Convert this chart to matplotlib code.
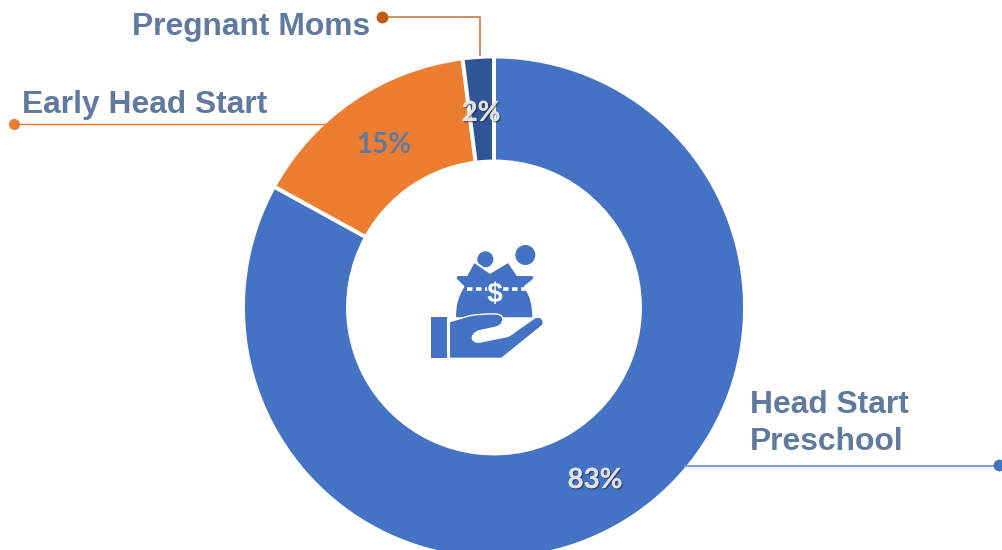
import matplotlib
matplotlib.use("Agg")
import matplotlib.pyplot as plt
import matplotlib.patheffects as pe
from matplotlib.patches import Circle, PathPatch, Polygon
from matplotlib.path import Path

categories = ["Head Start\nPreschool", "Early Head Start", "Pregnant Moms"]
shares = [83, 15, 2]
percent_labels = ["83%", "15%", "2%"]

BLUE = "#4472C4"
ORANGE = "#ED7D31"
NAVY = "#2F5597"
LABEL_INK = "#5F7A9E"
LIGHT_INK = "#E2E2E2"
H = 550


def Y(py):
    # reference pixel rows run downward, the axes run upward
    return H - py


def icon(zx, zy):
    return 400 + zx / 3, Y(220 + zy / 3)


fig = plt.figure(figsize=(10.03, 5.5), dpi=100)
ax = fig.add_axes([0, 0, 1, 1])

wedges, _ = ax.pie(shares, colors=[BLUE, ORANGE, NAVY], startangle=90, counterclock=False,
                   center=(494, Y(307.5)), radius=251,
                   wedgeprops=dict(width=105, edgecolor="white", linewidth=2.8))
ax.set_xlim(0, 1003)
ax.set_ylim(0, H)
ax.set_aspect("equal")
ax.axis("off")

# Leader lines with the dot at the far end
ax.plot([330, 14], [Y(124), Y(124)], color=ORANGE, lw=1.0, zorder=1)
ax.plot([14], [Y(124)], "o", color=ORANGE, ms=7, zorder=3)
ax.plot([480, 480, 382], [Y(55), Y(17), Y(17)], color="#D0814C", lw=1.3, zorder=1)
ax.plot([382], [Y(17)], "o", color="#C55A11", ms=7.5, zorder=3)
ax.plot([685, 999], [Y(466), Y(466)], color="#7299DB", lw=1.3, zorder=1)
ax.plot([999], [Y(465)], "o", color=BLUE, ms=7.5, zorder=3)

label_font = dict(family="Liberation Sans", fontweight="bold", fontsize=22.9, color=LABEL_INK)
ax.text(750, Y(423.5), categories[0], ha="left", va="center", linespacing=1.32, **label_font)
ax.text(22, Y(104.5), categories[1], ha="left", va="center", **label_font)
ax.text(132, Y(27.5), categories[2], ha="left", va="center", **label_font)

shadow = [pe.withSimplePatchShadow(offset=(1, -1), shadow_rgbFace="#222222", alpha=0.5), pe.Normal()]
pct_font = dict(family="Lato", fontweight="bold", fontsize=20, ha="center", va="center")
ax.text(595, Y(480), percent_labels[0], color=LIGHT_INK, path_effects=shadow, **pct_font)
ax.text(384, Y(145), percent_labels[1], color=LABEL_INK, **pct_font)
ax.text(481, Y(113), percent_labels[2], color=LIGHT_INK, path_effects=shadow, **pct_font)

# Money bag and hand icon in the hole
ax.add_patch(Circle(icon(376, 105), 10, color=BLUE, lw=0, zorder=4))
ax.add_patch(Circle(icon(256, 118), 8, color=BLUE, lw=0, zorder=4))

bag_pts = [(222, 125), (270, 158), (325, 125), (352, 165), (398, 165), (405, 175), (375, 200),
           (402, 240), (400, 295), (165, 295), (163, 240), (190, 200), (165, 175), (172, 165),
           (200, 165), (222, 125)]
bag_codes = [Path.MOVETO, Path.LINETO, Path.LINETO, Path.LINETO, Path.LINETO, Path.LINETO, Path.LINETO,
             Path.CURVE3, Path.CURVE3, Path.LINETO, Path.CURVE3, Path.CURVE3, Path.LINETO, Path.LINETO,
             Path.LINETO, Path.CLOSEPOLY]
ax.add_patch(PathPatch(Path([icon(*p) for p in bag_pts], bag_codes), facecolor=BLUE,
                       edgecolor="white", lw=1.5, joinstyle="round", zorder=5))
dash_x = [icon(200, 207)[0], icon(378, 207)[0]]
ax.plot(dash_x, [icon(0, 207)[1]] * 2, color="white", lw=2.6, ls=(0, (1.5, 1.0)), zorder=6)
ax.text(*icon(285, 225), "$", color="white", family="Liberation Sans", fontweight="bold",
        fontsize=20, ha="center", va="center", zorder=7,
        path_effects=[pe.withStroke(linewidth=2, foreground=BLUE)])

ax.add_patch(Polygon([icon(94, 291), icon(142, 291), icon(142, 415), icon(94, 415)], color=BLUE, lw=0, zorder=6))
M, L, Q, C = Path.MOVETO, Path.LINETO, Path.CURVE3, Path.CLOSEPOLY
hand_steps = [(M, (148, 305)), (L, (210, 287)), (Q, (250, 280)), (Q, (290, 282)), (Q, (312, 285)), (Q, (308, 302)),
              (Q, (305, 318)), (Q, (285, 322)), (L, (235, 333)), (Q, (212, 345)), (Q, (218, 358)),
              (Q, (225, 370)), (Q, (245, 365)), (L, (320, 350)), (Q, (335, 345)), (Q, (345, 335)),
              (L, (405, 293)), (Q, (420, 287)), (Q, (428, 300)), (Q, (433, 310)), (Q, (425, 318)),
              (L, (305, 415)), (L, (148, 415)), (C, (148, 305))]
hand_path = Path([icon(*p) for _, p in hand_steps], [c for c, _ in hand_steps])
ax.add_patch(PathPatch(hand_path, facecolor=BLUE, edgecolor="white", lw=1.0, joinstyle="round", zorder=6))

fig.savefig("out.png", dpi=100)
